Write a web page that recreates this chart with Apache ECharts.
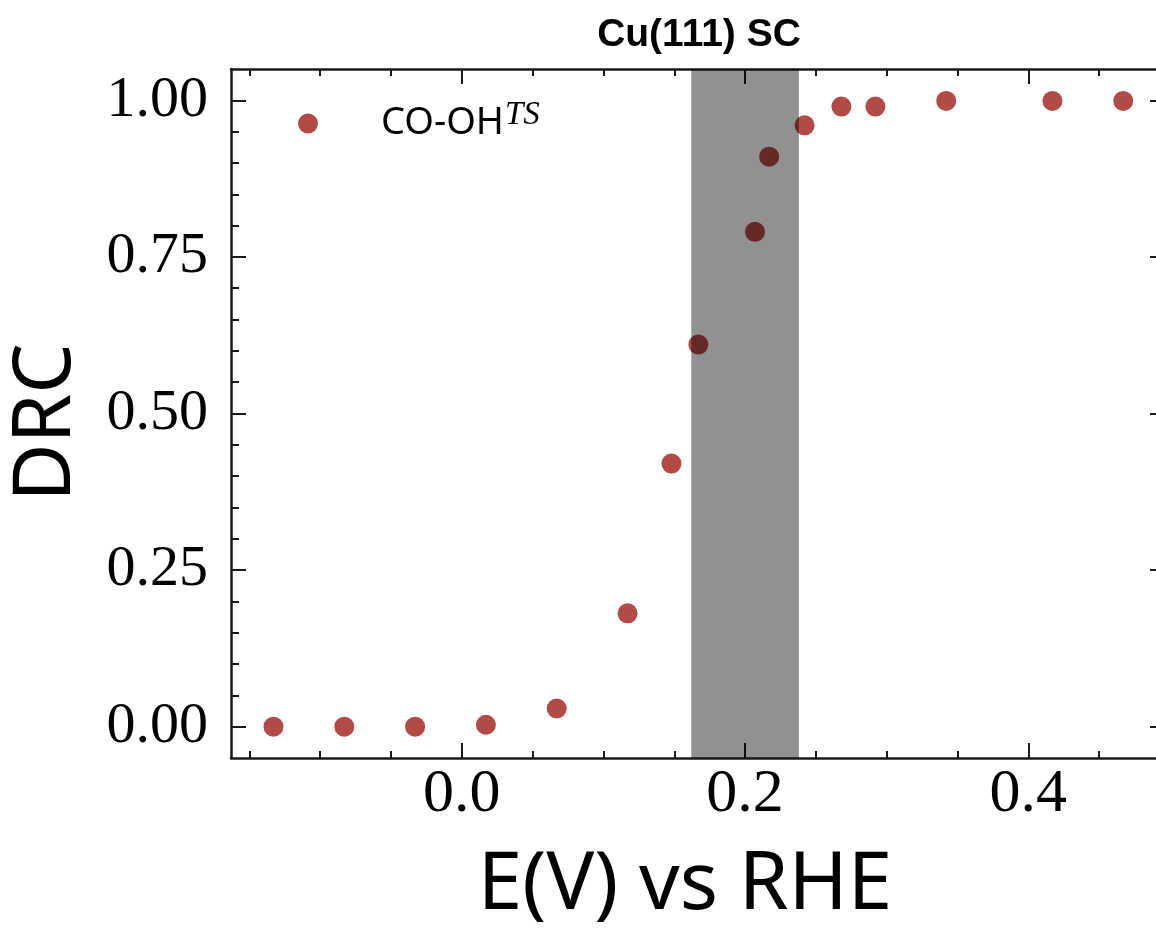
<!DOCTYPE html>
<html>
<head>
<meta charset="utf-8">
<script src="https://cdn.jsdelivr.net/npm/echarts@6/dist/echarts.min.js"></script>
<style>html,body{margin:0;padding:0;background:#fff;}#c{width:1156px;height:931px;}</style>
</head>
<body>
<div id="c"></div>
<script>
const titleText = 'Cu(111) SC';
const seriesName = 'CO-OH';
const xValues = [-0.133, -0.083, -0.033, 0.017, 0.067, 0.117, 0.148, 0.167, 0.207, 0.217, 0.242, 0.268, 0.292, 0.342, 0.417, 0.467];
const yValues = [0.000, 0.000, 0.000, 0.003, 0.029, 0.181, 0.420, 0.610, 0.790, 0.910, 0.960, 0.990, 0.990, 0.999, 0.999, 0.999];
const band = [0.162, 0.238];
const xMajorTicks = [0.0, 0.2, 0.4];
const xMinorTicks = [-0.15, -0.1, -0.05, 0.05, 0.1, 0.15, 0.25, 0.3, 0.35, 0.45];
const yMajorTicks = [0.0, 0.25, 0.5, 0.75, 1.0];
const yMinorTicks = [0.05, 0.1, 0.15, 0.2, 0.3, 0.35, 0.4, 0.45, 0.55, 0.6, 0.65, 0.7, 0.8, 0.85, 0.9, 0.95];
const xRange = [-0.163, 0.4965];
const yRange = [-0.05, 1.05];

const data = xValues.map((x, i) => [x, yValues[i]]);
const ink = '#1a1a1a';

function xAx(pos, ticks, len, show) {
  return {
    type: 'value', position: pos, min: xRange[0], max: xRange[1],
    splitLine: { show: false },
    axisLine: { show: show, onZero: false, lineStyle: { color: ink, width: 2.5 } },
    axisTick: { show: true, inside: true, length: len, customValues: ticks, lineStyle: { color: ink, width: 2 } },
    axisLabel: { show: false }
  };
}
function yAx(pos, ticks, len, show) {
  return {
    type: 'value', position: pos, min: yRange[0], max: yRange[1],
    splitLine: { show: false },
    axisLine: { show: show, onZero: false, lineStyle: { color: ink, width: 2.5 } },
    axisTick: { show: true, inside: true, length: len, customValues: ticks, lineStyle: { color: ink, width: 2 } },
    axisLabel: { show: false }
  };
}

const xMain = xAx('bottom', xMajorTicks, 15, true);
xMain.axisLabel = {
  show: true, customValues: xMajorTicks, margin: 6,
  fontFamily: 'Liberation Serif', fontSize: 62, color: '#000',
  formatter: v => v.toFixed(1)
};
xMain.name = 'E(V) vs RHE';
xMain.nameLocation = 'middle';
xMain.nameGap = 88;
xMain.nameTextStyle = { fontFamily: 'Noto Sans', fontSize: 80, color: '#000', padding: [0, 26, 0, 0] };

const yMain = yAx('left', yMajorTicks, 15, true);
yMain.axisLabel = {
  show: true, customValues: yMajorTicks, margin: 23,
  fontFamily: 'Liberation Serif', fontSize: 58, color: '#000',
  formatter: v => v.toFixed(2)
};
yMain.name = 'DRC';
yMain.nameLocation = 'middle';
yMain.nameGap = 144;
yMain.nameTextStyle = { fontFamily: 'Noto Sans', fontSize: 80, color: '#000', padding: [0, 18, 0, 0] };

const chart = echarts.init(document.getElementById('c'), null, { renderer: 'canvas' });
chart.setOption({
  backgroundColor: '#fff',
  animation: false,
  title: {
    text: titleText, left: 694, top: 11, textAlign: 'center',
    textStyle: { fontFamily: 'Liberation Sans', fontWeight: 'bold', fontSize: 39, color: '#000' }
  },
  grid: { left: 231, right: -9, top: 69, bottom: 173, containLabel: false, outerBoundsMode: 'none' },
  legend: {
    data: [seriesName],
    left: 298, top: 99, padding: 0,
    icon: 'circle', itemWidth: 20, itemHeight: 20,
    formatter: name => '{a|' + name + '}{b|TS}',
    textStyle: {
      rich: {
        a: { fontFamily: 'Noto Sans', fontSize: 38, color: '#000', padding: [0, 0, 0, 58] },
        b: { fontFamily: 'Liberation Serif', fontStyle: 'italic', fontSize: 33, color: '#000', verticalAlign: 'top', padding: [0, 0, 16, 1] }
      }
    }
  },
  xAxis: [xMain, xAx('bottom', xMinorTicks, 7, false), xAx('top', xMajorTicks, 15, true), xAx('top', xMinorTicks, 7, false)],
  yAxis: [yMain, yAx('left', yMinorTicks, 8, false), yAx('right', yMajorTicks, 15, false), yAx('right', yMinorTicks, 8, false)],
  series: [
    {
      name: seriesName, type: 'scatter', xAxisIndex: 0, yAxisIndex: 0,
      data: data, symbol: 'circle', symbolSize: 20,
      itemStyle: { color: '#b24a46', opacity: 1 }, z: 2
    },
    {
      name: 'band', type: 'custom', xAxisIndex: 0, yAxisIndex: 0, z: 10, silent: true,
      data: [[band[0], band[1]]],
      renderItem: function (params, api) {
        const p0 = api.coord([api.value(0), yRange[1]]);
        const p1 = api.coord([api.value(1), yRange[0]]);
        return {
          type: 'rect',
          shape: { x: p0[0], y: p0[1], width: p1[0] - p0[0], height: p1[1] - p0[1] },
          style: { fill: 'rgba(0,0,0,0.43)' }
        };
      }
    }
  ]
});
</script>
</body>
</html>
